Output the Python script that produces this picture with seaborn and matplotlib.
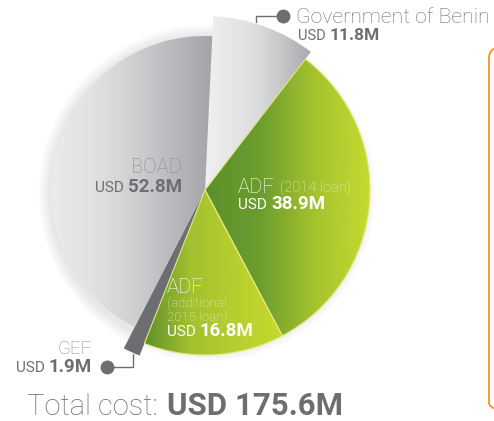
"""
Plan de financement du projet – camembert à rayons variables.
Sources de financement (USD millions) avec dégradés par part.
"""
import numpy as np
import matplotlib
matplotlib.use('Agg')
import matplotlib.pyplot as plt
import seaborn as sns
from matplotlib.patches import FancyBboxPatch, Circle

# Données (USD millions), dans l'ordre horaire depuis le haut
SOURCES = ["Government of Benin", "ADF (2014 loan)", "ADF (additional 2015 loan)", "GEF", "BOAD"]
AMOUNTS = [11.8, 38.9, 16.8, 1.9, 52.8]
TOTAL_COST = 175.6

# Style : rayon de chaque part (px) et dégradés gauche -> droite
RADII = [174, 165, 165, 178, 154]
GRADIENTS = [
    ['#f0f0f1', '#dcdddf', '#a9aaad'],
    ['#5b902c', '#6b9d2e', '#a5c32f', '#c6da2f'],
    ['#5e8f2a', '#a2c12f', '#b7cf2f', '#c5da2c'],
    ['#6d6e71', '#6d6e71'],
    ['#eaebec', '#e1e2e3', '#d0d1d3', '#b9babd', '#a3a4a7'],
]
EDGES = ['none', '#e4e77c', '#e4e77c', 'none', 'none']

GRAY = '#6d6e71'
LIGHT_GRAY = '#8c8d90'
PALE = '#e6efc4'
W, H = 494, 421
CENTER = (205, 190)

sns.set_theme(style="white")
plt.rcParams['font.family'] = ['Roboto', 'DejaVu Sans']

fig = plt.figure(figsize=(W / 100, H / 100), dpi=100)
ax = fig.add_axes([0, 0, 1, 1])

# Ombre douce autour du camembert
for i in range(8):
    ax.add_patch(Circle((CENTER[0] + 2, CENTER[1] + 3), 158 + i * 1.5,
                        color='black', alpha=0.010, lw=0, zorder=0.5))

wedges, _ = ax.pie(AMOUNTS, startangle=-87.3, counterclock=True, radius=165,
                   center=CENTER, wedgeprops=dict(linewidth=0))

for w, r, grad, ec in zip(wedges, RADII, GRADIENTS, EDGES):
    w.set_radius(r)
    w.set_facecolor('none')
    w.set_edgecolor(ec)
    w.set_linewidth(0.8)
    w.set_zorder(3)
    x0, y0, x1, y1 = w.get_path().get_extents().extents
    cmap = sns.blend_palette(grad, as_cmap=True)
    img = ax.imshow(np.linspace(0, 1, 256)[None, :], cmap=cmap, aspect='auto',
                    extent=(x0, x1, y1, y0), interpolation='bilinear', zorder=2)
    img.set_clip_path(w)

ax.set_xlim(0, W)
ax.set_ylim(H, 0)
ax.set_aspect('auto')
ax.axis('off')

rend = fig.canvas.get_renderer()


def rich(x, y, parts, ha='left', gap=4):
    """Texte multi-style sur une même ligne de base."""
    texts = [ax.text(x, y, s, fontsize=size, fontweight=wt, color=c,
                     ha='left', va='baseline', zorder=6)
             for s, size, wt, c in parts]
    widths = [t.get_window_extent(rend).width for t in texts]
    total = sum(widths) + gap * (len(texts) - 1)
    cur = x - total if ha == 'right' else x
    for t, wd in zip(texts, widths):
        t.set_x(cur)
        cur += wd + gap


# Government of Benin
rich(296, 23, [(SOURCES[0], 15.3, 'light', GRAY)])
rich(298, 40, [('USD', 10.5, 'normal', GRAY), (f'{AMOUNTS[0]}M', 12.5, 'bold', GRAY)])
ax.plot([283, 256, 256], [16, 16, 22], color=GRAY, lw=1, zorder=5)
ax.plot(283, 16, 'o', ms=9, color=GRAY, zorder=5)

# BOAD
rich(182, 173, [('BOAD', 14.5, 'light', LIGHT_GRAY)], ha='right')
rich(182, 192, [('USD', 11, 'normal', GRAY), (f'{AMOUNTS[4]}M', 13.5, 'bold', GRAY)], ha='right')

# ADF 2014
rich(238, 193, [('ADF', 14.5, 'light', 'white'), ('(2014 loan)', 10.5, 'light', PALE)], gap=5)
rich(238, 209, [('USD', 11, 'normal', 'white'), (f'{AMOUNTS[1]}M', 13.5, 'bold', 'white')])

# ADF additional 2015
rich(167, 293, [('ADF', 14.5, 'light', 'white')])
rich(167, 307, [('(additional', 9.5, 'light', PALE)])
rich(167, 321, [('2015 loan)', 9.5, 'light', PALE)])
rich(167, 336, [('USD', 11, 'normal', 'white'), (f'{AMOUNTS[2]}M', 13.5, 'bold', 'white')])

# GEF
rich(92, 354, [('GEF', 13.5, 'light', LIGHT_GRAY)], ha='right')
rich(92, 372, [('USD', 11, 'normal', GRAY), (f'{AMOUNTS[3]}M', 13.5, 'bold', GRAY)], ha='right')
ax.plot([107, 133, 133], [367, 367, 354], color=GRAY, lw=1, zorder=5)
ax.plot(107, 367, 'o', ms=9, color=GRAY, zorder=5)

# Coût total
rich(27, 415, [('Total cost:', 21, 'light', GRAY), (f'USD {TOTAL_COST}M', 22.5, 'bold', GRAY)], gap=9)

# Encadré orange (coupé à droite)
ax.add_patch(FancyBboxPatch((489, 48), 60, 365, boxstyle='round,pad=0,rounding_size=10',
                            fill=False, edgecolor='#f7941d', lw=1.3, zorder=4))

fig.savefig('out.png', dpi=100)
